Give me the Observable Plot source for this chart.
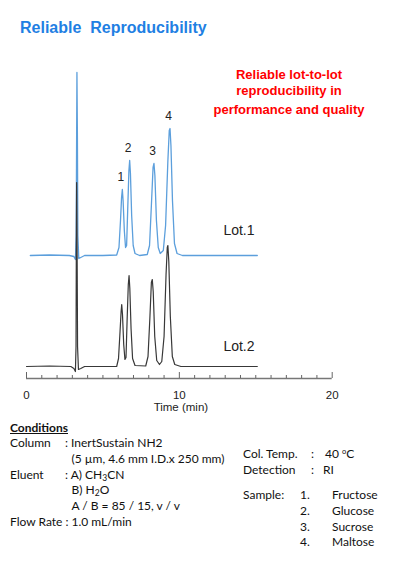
<!DOCTYPE html>
<html>
<head>
<meta charset="utf-8">
<script src="https://cdn.jsdelivr.net/npm/d3@7"></script>
<script src="https://cdn.jsdelivr.net/npm/@observablehq/plot@0.6"></script>
<style>
  html, body { margin: 0; padding: 0; background: #fff; }
  #wrap { position: relative; width: 398px; height: 567px; overflow: hidden; background: #fff; }
  #chart { position: absolute; left: 0; top: 0; }
  .t { position: absolute; white-space: nowrap; }
  .title { font: bold 16px "Liberation Sans", Arial, sans-serif; color: #1f80e3; line-height: 16px; }
  .red { font: bold 13px "Liberation Sans", Arial, sans-serif; color: #ff0000; line-height: 13px; width: 200px; text-align: center; }
  .c { font: 12px Lato, "Open Sans", sans-serif; color: #111; line-height: 12px; }
  .c sub { font-size: 8.5px; line-height: 0; vertical-align: -2px; }
  .c sup { font-size: 7.5px; line-height: 0; vertical-align: 4px; }
</style>
</head>
<body>
<div id="wrap">
  <div id="chart"></div>
  <div class="t title" style="left:20px;top:19.5px;">Reliable&nbsp; Reproducibility</div>
  <div class="t red" style="left:189px;top:68px;">Reliable lot-to-lot</div>
  <div class="t red" style="left:189px;top:84px;">reproducibility in</div>
  <div class="t red" style="left:189px;top:103px;">performance and quality</div>

  <div class="t c" style="left:10px;top:421.5px;font-weight:bold;text-decoration:underline;">Conditions</div>
  <div class="t c" style="left:10px;top:437px;">Column</div>
  <div class="t c" style="left:65px;top:437px;">: InertSustain NH2</div>
  <div class="t c" style="left:71.5px;top:452.5px;">(5 µm, 4.6 mm I.D.x 250 mm)</div>
  <div class="t c" style="left:10px;top:468.5px;">Eluent</div>
  <div class="t c" style="left:65px;top:468.5px;">: A) CH<sub>3</sub>CN</div>
  <div class="t c" style="left:71.5px;top:484px;">B) H<sub>2</sub>O</div>
  <div class="t c" style="left:71.5px;top:499.5px;">A / B = 85 / 15, v / v</div>
  <div class="t c" style="left:10px;top:515.5px;">Flow Rate : 1.0 mL/min</div>

  <div class="t c" style="left:243px;top:447.5px;">Col. Temp.</div>
  <div class="t c" style="left:311px;top:447.5px;">:</div>
  <div class="t c" style="left:325px;top:447.5px;">40 <sup>o</sup>C</div>
  <div class="t c" style="left:243px;top:463.5px;">Detection</div>
  <div class="t c" style="left:311px;top:463.5px;">:</div>
  <div class="t c" style="left:323px;top:463.5px;">RI</div>
  <div class="t c" style="left:243px;top:488.5px;">Sample:</div>
  <div class="t c" style="left:300px;top:488.5px;">1.</div>
  <div class="t c" style="left:332px;top:488.5px;">Fructose</div>
  <div class="t c" style="left:300px;top:504.5px;">2.</div>
  <div class="t c" style="left:332px;top:504.5px;">Glucose</div>
  <div class="t c" style="left:300px;top:520.5px;">3.</div>
  <div class="t c" style="left:332px;top:520.5px;">Sucrose</div>
  <div class="t c" style="left:300px;top:536px;">4.</div>
  <div class="t c" style="left:332px;top:536px;">Maltose</div>
</div>
<script>
// Chromatogram traces: [time (min), detector signal (arbitrary units, above own baseline)]
const lot1Trace = [
  [0.25, 0], [1.5, 0.5], [2.8, 0], [3.1, -1], [3.2, -4], [3.25, 20], [3.28, 120], [3.30, 183],
  [3.33, 120], [3.36, 20], [3.42, -3], [3.55, -2], [3.8, 0], [5.0, 0], [5.9, 0.5],
  [6.05, 8], [6.15, 35], [6.22, 58], [6.27, 66], [6.32, 55], [6.40, 25], [6.48, 8],
  [6.55, 10], [6.62, 45], [6.70, 85], [6.75, 95], [6.80, 82], [6.88, 40], [6.98, 10], [7.1, 2],
  [7.4, 0], [7.9, 1], [8.05, 10], [8.17, 50], [8.28, 88], [8.34, 92], [8.40, 80], [8.50, 35],
  [8.62, 8], [8.75, 2], [8.95, 5], [9.1, 30], [9.25, 95], [9.34, 125], [9.39, 127], [9.45, 110],
  [9.55, 55], [9.68, 12], [9.85, 2], [10.2, 0], [12, 0], [15.1, 0]
];
const lot2Trace = [
  [0, 0], [1.5, 0.5], [2.9, 0], [3.1, -2], [3.2, -5], [3.24, 20], [3.26, 120], [3.28, 184],
  [3.31, 120], [3.34, 20], [3.40, -3], [3.55, -2], [3.8, 0], [5.9, 0],
  [6.02, 8], [6.12, 35], [6.19, 55], [6.23, 62], [6.28, 52], [6.36, 22], [6.44, 7],
  [6.51, 9], [6.58, 45], [6.66, 82], [6.71, 91], [6.76, 78], [6.84, 38], [6.94, 8], [7.1, 1],
  [7.8, 0.5], [7.95, 10], [8.07, 48], [8.17, 84], [8.23, 87], [8.29, 75], [8.39, 30], [8.52, 6],
  [8.7, 2], [8.85, 5], [9.0, 30], [9.13, 92], [9.21, 119], [9.25, 121], [9.31, 105], [9.41, 50],
  [9.54, 10], [9.7, 2], [10.1, 0], [12, 0], [15.1, 0]
];
const peakNames = ["1", "2", "3", "4"];
const peakTimes = [6.27, 6.75, 8.34, 9.39];      // Lot.1 retention times (min)
const peakHeights = [66, 95, 92, 127];           // Lot.1 peak heights
const lotNames = ["Lot.1", "Lot.2"];
const axisTicks = d3.range(0, 21, 1);
const axisLabels = [0, 10, 20];
const xTitle = "Time (min)";

// Vertical stacking offset of Lot.1 above Lot.2 (signal units)
const lot1Offset = 111;
const axisLevel = -12;

const line1 = lot1Trace.map(([t, v]) => ({t, v: v + lot1Offset}));
const line2 = lot2Trace.map(([t, v]) => ({t, v}));
const peaks = peakNames.map((n, i) => ({n, t: peakTimes[i], v: peakHeights[i] + lot1Offset}));
const lots = lotNames.map((n, i) => ({n, t: 13.9, v: i === 0 ? lot1Offset + 25 : 20}));

const font = "Liberation Sans, Arial, sans-serif";

const plot = Plot.plot({
  width: 398,
  height: 420,
  marginLeft: 26,
  marginRight: 66.3,
  marginTop: 66,
  marginBottom: 42,
  x: {domain: [0, 20], axis: null},
  y: {domain: [axisLevel, 300], axis: null},
  style: {fontFamily: font, background: "transparent"},
  marks: [
    Plot.line(line1, {x: "t", y: "v", stroke: "#5c9fdc", strokeWidth: 1.3, curve: "linear"}),
    Plot.line(line2, {x: "t", y: "v", stroke: "#383838", strokeWidth: 1.2, curve: "linear"}),
    Plot.ruleY([axisLevel], {x1: 0, x2: 20, stroke: "#777", strokeWidth: 1.5}),
    Plot.ruleX(axisTicks, {x: d => d, y1: axisLevel, y2: d => d % 10 === 0 ? axisLevel + 6 : axisLevel + 3, stroke: "#666", strokeWidth: 1}),
    Plot.text(axisLabels, {x: d => d, y: axisLevel, text: d => String(d), dy: 17, fontSize: 11.5, fill: "#222"}),
    Plot.text([xTitle], {x: 10.1, y: axisLevel, text: d => d, dy: 29, fontSize: 11.5, fill: "#222"}),
    Plot.text(peaks, {x: "t", y: "v", text: "n", dx: -1.5, dy: -12, fontSize: 12, fill: "#222"}),
    Plot.text(lots, {x: "t", y: "v", text: "n", fontSize: 14, fill: "#222"})
  ]
});
document.getElementById("chart").appendChild(plot);
</script>
</body>
</html>
